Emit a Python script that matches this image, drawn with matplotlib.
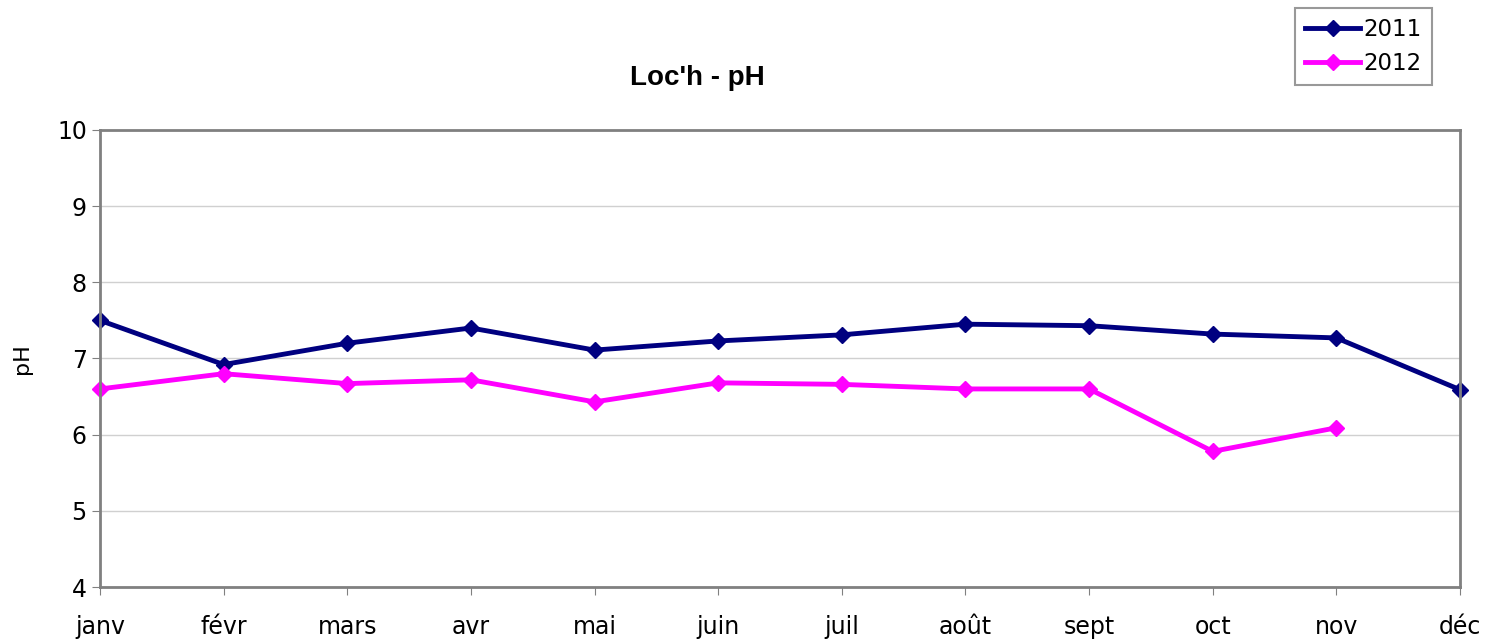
import matplotlib
matplotlib.use("Agg")
import matplotlib.pyplot as plt
import numpy as np

# monthly pH values
months = ["janv", "févr", "mars", "avr", "mai", "juin", "juil", "août", "sept", "oct", "nov", "déc"]
ph_2011 = [7.50, 6.92, 7.20, 7.40, 7.11, 7.23, 7.31, 7.45, 7.43, 7.32, 7.27, 6.59]
ph_2012 = [6.60, 6.80, 6.67, 6.72, 6.43, 6.68, 6.66, 6.60, 6.60, 5.78, 6.09]

fig = plt.figure(figsize=(14.86, 6.4), dpi=100)
ax = fig.add_axes([0.0673, 0.0828, 0.9152, 0.7142])

x = np.arange(len(months))
ax.plot(x, ph_2011, color="#000080", lw=3.5, marker="D", ms=8, label="2011", clip_on=False)
ax.plot(x[:len(ph_2012)], ph_2012, color="#FF00FF", lw=3.5, marker="D", ms=8, label="2012", clip_on=False)

ax.set_xlim(0, len(months) - 1)
ax.set_ylim(4, 10)
ax.set_xticks(x)
ax.set_xticklabels(months)
ax.set_yticks(range(4, 11))
ax.tick_params(axis="both", labelsize=17, color="#808080", length=6, direction="out")
ax.tick_params(axis="x", pad=14)
ax.grid(axis="y", color="#d0d0d0", lw=1)
ax.set_axisbelow(True)
for s in ax.spines.values():
    s.set_color("#808080")
    s.set_linewidth(2)
ax.set_ylabel("pH", fontsize=16, labelpad=18)

fig.text(0.469, 0.878, "Loc'h - pH", fontsize=20, fontweight="bold",
         family="Liberation Sans", ha="center", va="center")

leg = fig.legend(loc="upper left", bbox_to_anchor=(0.8715, 0.9875), borderaxespad=0,
                 fontsize=16.5, frameon=True, fancybox=False, edgecolor="#808080",
                 handlelength=2.4, handletextpad=0.15, borderpad=0.45, labelspacing=0.45)
leg.get_frame().set_linewidth(1.5)

fig.savefig("out.png", dpi=100)
